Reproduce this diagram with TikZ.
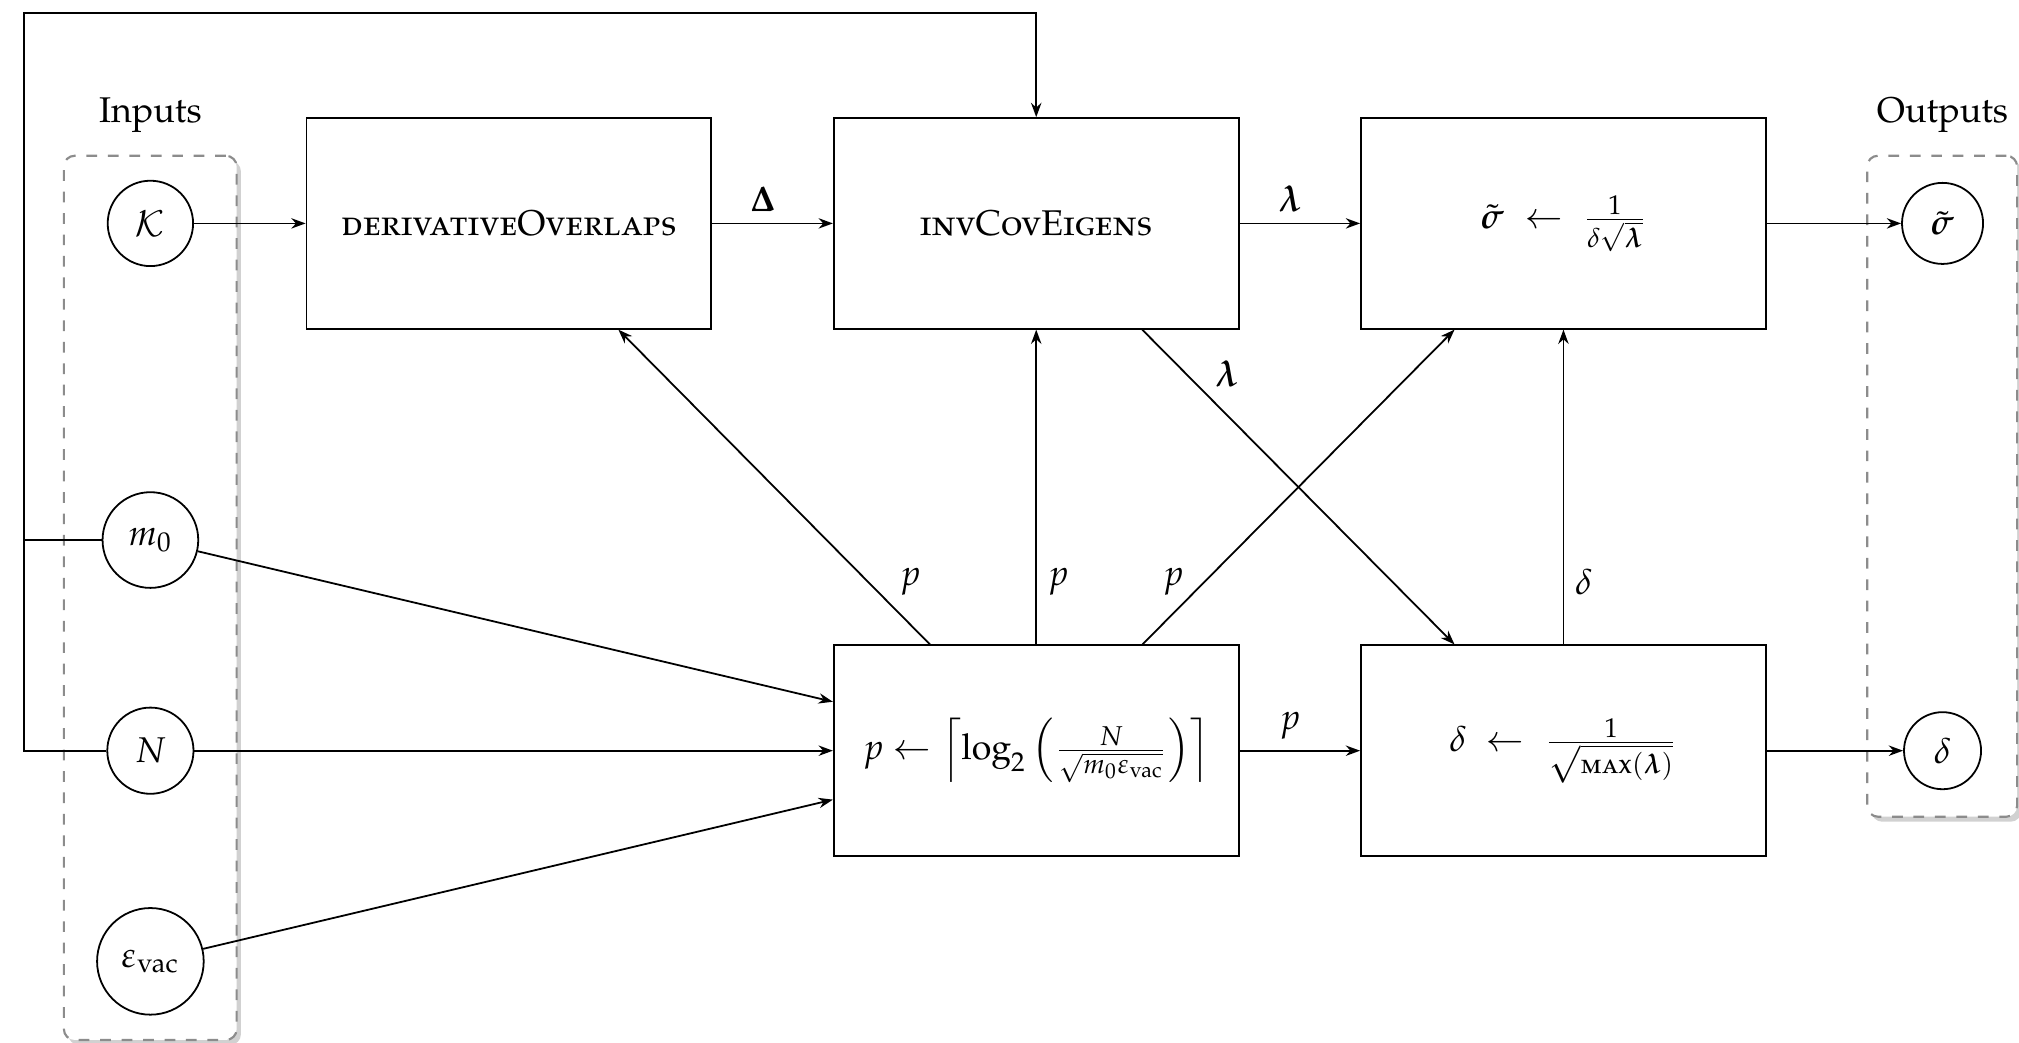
\documentclass[tikz,border=0pt]{standalone}
\usepackage[T1]{fontenc}
\usepackage[sc]{mathpazo}
\usepackage{amsmath}
\usetikzlibrary{arrows.meta,calc,shadows}

\begin{document}
\begin{tikzpicture}[x=0.36pt, y=-0.36pt,
  proc/.style={draw, fill=white, line width=0.5pt, minimum width=113.2pt,
    minimum height=58.9pt, inner sep=0pt},
  var/.style={draw, circle, fill=white, line width=0.5pt, inner sep=4.6pt},
  group/.style={draw=black!45, dashed, rounded corners=3pt, fill=white,
    line width=0.6pt, inner sep=0pt,
    drop shadow={opacity=0.3, shadow xshift=1.2pt, shadow yshift=-1.4pt, fill=black!60}},
  flow/.style={line width=0.5pt, -{Stealth[length=4pt,width=2.9pt,inset=1.3pt]}},
  wire/.style={line width=0.5pt},
  tag/.style={inner sep=3pt}
]
\useasboundingbox (0,0) rectangle (1568,810);

% grouping frames for inputs and outputs
\node[group, minimum width=48.3pt, minimum height=247.2pt] (inframe) at (116.7,464.3) {};
\node[group, minimum width=41.9pt, minimum height=184.8pt] (outframe) at (1508.3,377.6) {};
\node (inlabel) at (116.8,89.3) {Inputs};
\node (outlabel) at (1508.6,89.3) {Outputs};

% inputs
\node[var] (K) at (116.8,173.5) {$\mathcal{K}$};
\node[var] (m0) at (116.8,419.4) {$m_0$};
\node[var] (N) at (116.8,583) {$N$};
\node[var] (eps) at (116.8,746.6) {$\varepsilon_{\text{vac}}$};

% processing steps
\node[proc] (deriv) at (395.25,173.5) {\textsc{derivativeOverlaps}};
\node[proc] (inv) at (804.75,173.5) {\textsc{invCovEigens}};
\node[proc] (sig) at (1214.2,173.5)
  {$\tilde{\boldsymbol{\sigma}}\;\leftarrow\;\frac{1}{\delta\sqrt{\boldsymbol{\lambda}}}$};
\node[proc] (pbox) at (804.75,583)
  {$p\leftarrow\left\lceil\log_2\left(\frac{N}{\sqrt{m_0\varepsilon_{\text{vac}}}}\right)\right\rceil$};
\node[proc] (del) at (1214.2,583)
  {$\delta\;\leftarrow\;\frac{1}{\sqrt{\textsc{max}(\boldsymbol{\lambda})}}$};

% outputs
\node[var] (sout) at (1508.6,173.5) {$\tilde{\boldsymbol{\sigma}}$};
\node[var] (dout) at (1508.6,583) {$\delta$};

% main data flow
\draw[flow] (K) -- (deriv);
\draw[flow] (deriv) -- node[tag, above, pos=0.42] {$\boldsymbol{\Delta}$} (inv);
\draw[flow] (inv) -- node[tag, above, pos=0.42] {$\boldsymbol{\lambda}$} (sig);
\draw[flow] (sig) -- (sout);
\draw[flow] (pbox) -- node[tag, above, pos=0.42] {$p$} (del);
\draw[flow] (del) -- (dout);

% inputs of the precision step
\draw[flow] (m0) -- ($(pbox.west)+(0,-38)$);
\draw[flow] (N) -- (pbox);
\draw[flow] (eps) -- ($(pbox.west)+(0,38)$);

% precision p fanned out upwards
\draw[flow] ($(pbox.north)+(-82.5,0)$) -- node[tag, pos=0.2, right=5.8pt] {$p$} ($(deriv.south)+(85,0)$);
\draw[flow] (pbox.north) -- node[tag, pos=0.2, right] {$p$} (inv.south);
\draw[flow] ($(pbox.north)+(82.5,0)$) -- node[tag, pos=0.2, left=2.7pt] {$p$} ($(sig.south)+(-84.6,0)$);

% eigenvalues and scale
\draw[flow] ($(inv.south)+(82.3,0)$) -- node[tag, pos=0.14, right=4.9pt] {$\boldsymbol{\lambda}$} ($(del.north)+(-84.6,0)$);
\draw[flow] (del.north) -- node[tag, pos=0.2, right] {$\delta$} (sig.south);

% m0 and N also feed the eigen decomposition
\coordinate (fb) at (18.4,9.85);
\draw[wire] (m0.west) -- (m0.west -| fb);
\draw[flow] (N.west) -- (N.west -| fb) -- (fb) -| (inv.north);
\end{tikzpicture}
\end{document}
